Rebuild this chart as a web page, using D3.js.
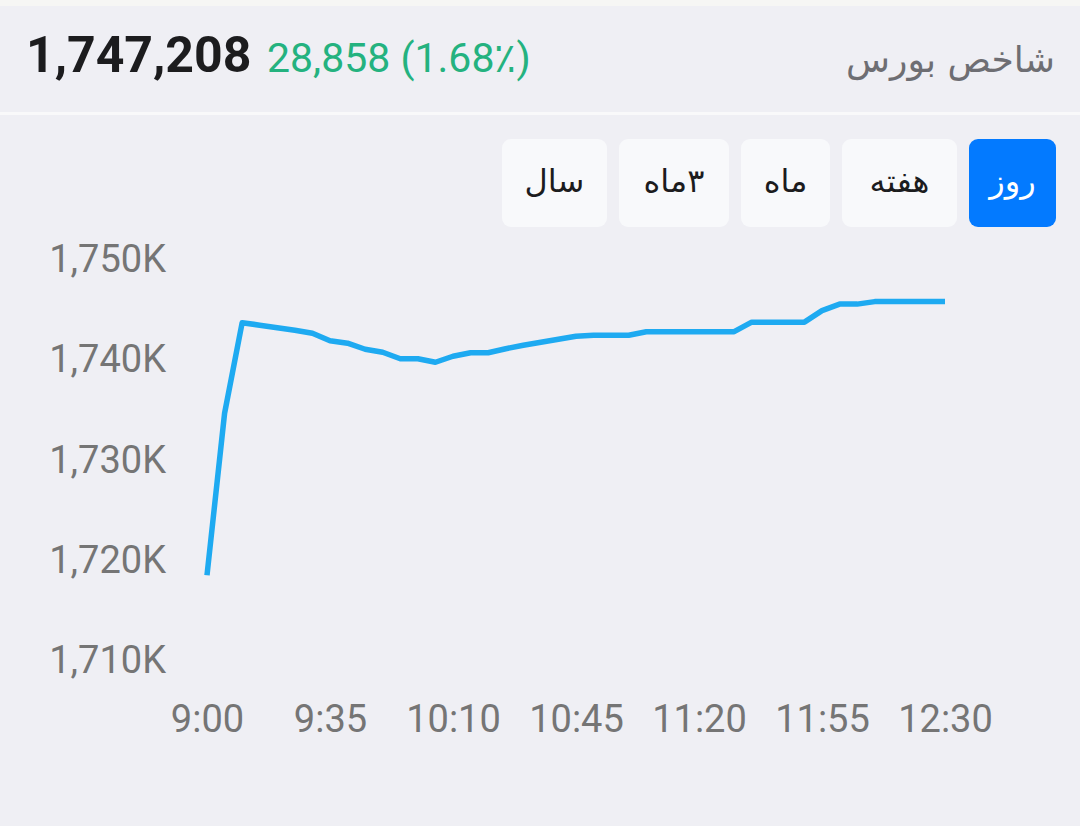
<!DOCTYPE html>
<html>
<head>
<meta charset="utf-8">
<script src="https://cdn.jsdelivr.net/npm/d3@7/dist/d3.min.js"></script>
<style>
  html, body { margin: 0; padding: 0; background: #efeff4; }
  svg { display: block; }
</style>
</head>
<body>
<svg id="chart" width="1080" height="826"></svg>
<script>
// ---- data ----
const title = "شاخص بورس";
const lastValue = "1,747,208";
const changeText = "28,858 (1.68٪)";
const periods = ["روز", "هفته", "ماه", "۳ماه", "سال"];
const activePeriod = "روز";
const times = ["9:00","9:05","9:10","9:15","9:20","9:25","9:30","9:35","9:40","9:45","9:50","9:55",
  "10:00","10:05","10:10","10:15","10:20","10:25","10:30","10:35","10:40","10:45","10:50","10:55",
  "11:00","11:05","11:10","11:15","11:20","11:25","11:30","11:35","11:40","11:45","11:50","11:55",
  "12:00","12:05","12:10","12:15","12:20","12:25","12:30"];
const values = [1718.35,1734.5,1743.55,1743.3,1743.05,1742.8,1742.5,1741.75,1741.5,1740.9,1740.6,1739.95,
  1739.95,1739.6,1740.2,1740.55,1740.55,1740.95,1741.3,1741.6,1741.9,1742.2,1742.3,1742.3,
  1742.3,1742.65,1742.65,1742.65,1742.65,1742.65,1742.65,1743.6,1743.6,1743.6,1743.6,1744.75,
  1745.4,1745.4,1745.65,1745.65,1745.65,1745.65,1745.65];
const xTickLabels = ["9:00","9:35","10:10","10:45","11:20","11:55","12:30"];
const yTickValues = [1710, 1720, 1730, 1740, 1750];

// ---- layout ----
const svg = d3.select("#chart");
const toMin = s => { const [h, m] = s.split(":").map(Number); return h * 60 + m; };
const data = times.map((t, i) => ({ t: toMin(t), v: values[i] }));

svg.append("rect").attr("x", 0).attr("y", 0).attr("width", 1080).attr("height", 826).attr("fill", "#efeff4");
svg.append("rect").attr("x", 0).attr("y", 0).attr("width", 1080).attr("height", 6).attr("fill", "#f6f6f4");
svg.append("rect").attr("x", 0).attr("y", 112).attr("width", 1080).attr("height", 3).attr("fill", "#f9f9fa");

// header
svg.append("text").attr("x", 26).attr("y", 72)
  .attr("font-family", "Roboto").attr("font-weight", 700).attr("font-size", 50)
  .attr("fill", "#1c1c1e").text(lastValue);
svg.append("text").attr("x", 267).attr("y", 72)
  .attr("font-family", "Roboto").attr("font-size", 41)
  .attr("fill", "#24b27f").text(changeText);
svg.append("text").attr("x", 1055).attr("y", 72)
  .attr("text-anchor", "end")
  .attr("font-family", "'DejaVu Sans', 'Noto Sans'").attr("font-size", 36)
  .attr("fill", "#6e6e73").text(title);

// buttons (right to left)
const btnW = [87, 115, 89, 110, 105];
const gap = 12;
let right = 1056;
const btns = periods.map((p, i) => {
  const b = { label: p, x: right - btnW[i], w: btnW[i] };
  right = b.x - gap;
  return b;
});
const bg = svg.append("g").selectAll("g").data(btns).join("g");
bg.append("rect").attr("x", d => d.x).attr("y", 139).attr("width", d => d.w).attr("height", 88)
  .attr("rx", 9).attr("fill", d => d.label === activePeriod ? "#037aff" : "#f8f9fb");
bg.append("text").attr("x", d => d.x + d.w / 2).attr("y", 192)
  .attr("text-anchor", "middle").attr("direction", "rtl").style("unicode-bidi", "embed")
  .attr("font-family", "'DejaVu Sans', 'Noto Sans'").attr("font-size", 32)
  .attr("fill", d => d.label === activePeriod ? "#ffffff" : "#1c1c1e").text(d => d.label);

// scales
const x = d3.scaleLinear().domain([toMin("9:00"), toMin("12:30")]).range([207, 945]);
const y = d3.scaleLinear().domain([1710, 1750]).range([659, 258]);

// axes
const yAxis = d3.axisLeft(y).tickValues(yTickValues).tickSize(0).tickPadding(0)
  .tickFormat(v => d3.format(",")(v) + "K");
const gy = svg.append("g").attr("transform", "translate(166,0)").call(yAxis);
gy.select(".domain").remove();
gy.selectAll("text").attr("font-family", "Roboto").attr("font-size", 38).attr("fill", "#757575")
  .attr("dy", "0.36em");

const xAxis = d3.axisBottom(x).tickValues(xTickLabels.map(toMin)).tickSize(0).tickPadding(0)
  .tickFormat((d, i) => xTickLabels[i]);
const gx = svg.append("g").attr("transform", "translate(0,700)").call(xAxis);
gx.select(".domain").remove();
gx.selectAll("text").attr("font-family", "Roboto").attr("font-size", 38).attr("fill", "#757575")
  .attr("dy", "0.84em");

// line
const line = d3.line().x(d => x(d.t)).y(d => y(d.v));
svg.append("path").datum(data).attr("d", line)
  .attr("fill", "none").attr("stroke", "#1eaaf1").attr("stroke-width", 5.5)
  .attr("stroke-linejoin", "round");
</script>
</body>
</html>
